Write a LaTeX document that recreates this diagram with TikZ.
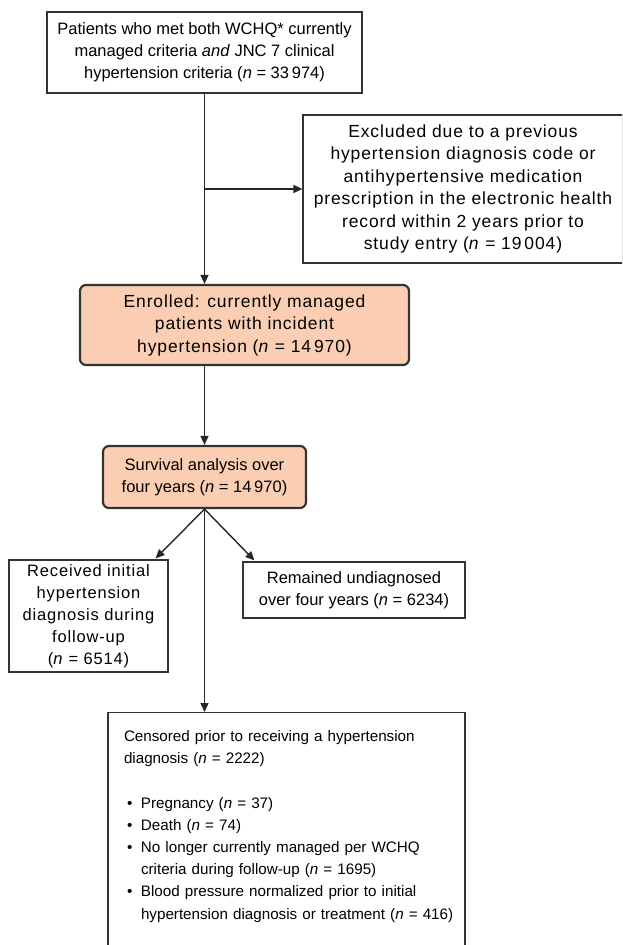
\documentclass[tikz,border=0pt]{standalone}
\usepackage{fontspec}
\setmainfont{Liberation Sans}
\newfontfamily\widesans[LetterSpace=5]{Liberation Sans}
\usetikzlibrary{arrows.meta}
\definecolor{peach}{HTML}{FBCEB4}

\begin{document}
\begin{tikzpicture}[x=1pt,y=-1pt,>={Triangle[length=9pt,width=8pt]},
  box/.style={draw=black!80,line width=1.2pt,align=center,inner sep=0pt,font=\fontsize{16.5}{22}\selectfont},
  wide/.style={box,font=\widesans\fontsize{17.5}{22.5}\selectfont},
  main/.style={wide,fill=peach,rounded corners=6pt,line width=2.2pt},
  link/.style={->,line width=1.4pt,draw=black!85}]
\useasboundingbox (0,0) rectangle (622,945);
\clip (0,0) rectangle (622,945);
\node[box,minimum width=315pt,minimum height=81pt] (met) at (204.5,52.5) {Patients who met both WCHQ* currently\\managed criteria \textit{and} JNC 7 clinical\\hypertension criteria (\textit{n} = 33\,974)};
\node[wide,minimum width=320pt,minimum height=148pt] (excl) at (463,189) {Excluded due to a previous\\hypertension diagnosis code or\\antihypertensive medication\\prescription in the electronic health\\record within 2 years prior to\\study entry (\textit{n} = 19\,004)};
\node[main,minimum width=329pt,minimum height=80pt] (enr) at (244.5,325) {Enrolled: currently managed\\patients with incident\\hypertension (\textit{n} = 14\,970)};
\node[main,font=\fontsize{16.5}{22}\selectfont,minimum width=203pt,minimum height=62pt] (surv) at (204.5,477) {Survival analysis over\\four years (\textit{n} = 14\,970)};
\node[wide,font=\widesans\fontsize{16.5}{22}\selectfont,minimum width=159pt,minimum height=112pt] (recv) at (88.5,616) {Received initial\\hypertension\\diagnosis during\\follow-up\\(\textit{n} = 6514)};
\node[box,minimum width=222pt,minimum height=56pt] (undiag) at (354,590) {Remained undiagnosed\\over four years (\textit{n} = 6234)};
\node[box,anchor=north,align=left,text width=325pt,inner xsep=16pt,inner ysep=18pt,font=\fontsize{15.2}{22.2}\selectfont] (cens) at (286.5,712) {Censored prior to receiving a hypertension\\
diagnosis (\textit{n} = 2222)\\[22pt]
\makebox[17pt][l]{\hspace{3pt}\textbullet}Pregnancy (\textit{n} = 37)\\
\makebox[17pt][l]{\hspace{3pt}\textbullet}Death (\textit{n} = 74)\\
\makebox[17pt][l]{\hspace{3pt}\textbullet}No longer currently managed per WCHQ\\
\hspace*{17pt}criteria during follow-up (\textit{n} = 1695)\\
\makebox[17pt][l]{\hspace{3pt}\textbullet}Blood pressure normalized prior to initial\\
\mbox{\hspace*{17pt}hypertension diagnosis or treatment (\textit{n} = 416)}\\
\rule{0pt}{40pt}};
\draw[link] (met.south) -- (met.south |- enr.north);
\draw[link] (met.south |- excl.west) -- (excl.west);
\draw[link] (surv.north |- enr.south) -- (surv.north);
\draw[link] (surv.south) -- ([xshift=-13pt,yshift=1pt]recv.north east);
\draw[link] (surv.south) -- ([xshift=12pt,yshift=1pt]undiag.north west);
\draw[link] (surv.south) -- (surv.south |- cens.north);
\end{tikzpicture}
\end{document}
